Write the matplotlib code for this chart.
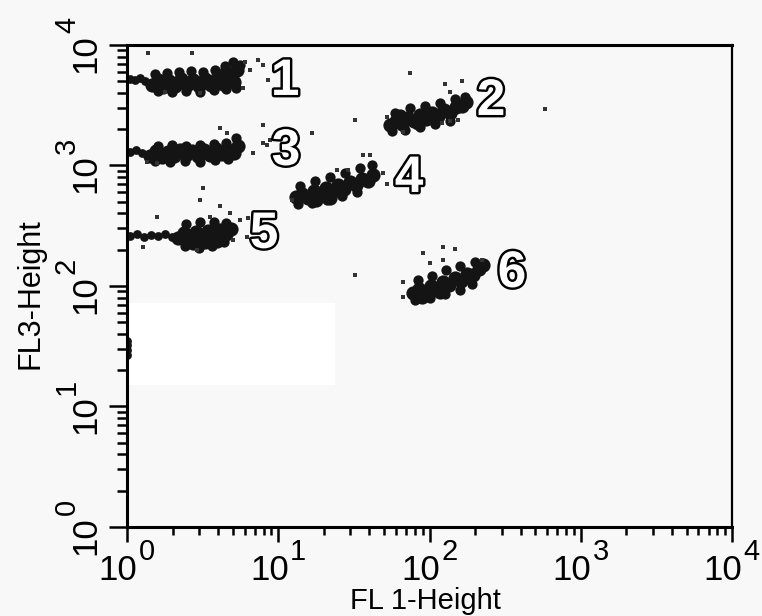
import matplotlib
matplotlib.use("Agg")
import matplotlib.pyplot as plt
import matplotlib.patheffects as pe
from matplotlib import font_manager
from matplotlib.patches import Rectangle
from matplotlib.ticker import NullFormatter

# --- populations (FL1-Height, FL3-Height) ---
# population 1
p1_core_x = [1.46, 1.60, 1.73, 1.90, 2.08, 2.27, 2.49, 2.73, 2.99, 3.28, 3.59, 3.94, 4.31, 4.73, 5.10, 5.34, 4.51]
p1_core_y = [4660, 5130, 4480, 5030, 4570, 5230, 4660, 5130, 4570, 5230, 4660, 5320, 4750, 5420, 4930, 6210, 5970]
p1_edge_x = [1.53, 1.84, 2.21, 2.65, 3.18, 3.82, 4.45, 5.02, 5.59, 1.60, 1.98, 2.46, 3.04, 3.76, 4.51, 5.26]
p1_edge_y = [5746, 5856, 5970, 6085, 5970, 6210, 6698, 7220, 6830, 4152, 4074, 4152, 4074, 4240, 4315, 4400]
p1_tail_x = [1.05, 1.13, 1.22, 1.32]
p1_tail_y = [5230, 5130, 5320, 5030]
p1_stray_x = [1.38, 2.69, 6.03, 6.51, 7.35, 7.93, 8.55, 5.85, 3.04, 1.78]
p1_stray_y = [8590, 8590, 7220, 6210, 7510, 6830, 5130, 4400, 4000, 4070]

# population 2
p2_core_x = [54.8, 60.0, 65.8, 72.1, 79.0, 86.5, 94.8, 103.9, 113.8, 124.7, 136.6, 149.7, 164.0, 174.3, 63.8, 83.9]
p2_core_y = [2169, 2340, 2210, 2478, 2340, 2625, 2432, 2728, 2575, 2888, 2728, 3058, 3118, 3365, 2575, 2253]
p2_edge_x = [59.1, 74.3, 93.4, 117.3, 147.5, 171.7, 56.5, 68.9, 86.5, 108.7, 136.6]
p2_edge_y = [2728, 3000, 3118, 3302, 3562, 3703, 1933, 1970, 2087, 2210, 2340]
p2_stray_x = [74.3, 126.6, 164.0, 136.6, 154.3, 136.6, 120.9, 66.8, 52.4, 580]
p2_stray_y = [5856, 4748, 5026, 4074, 2385, 2340, 2253, 1897, 2526, 2943]

# population 3
p3_core_x = [1.42, 1.56, 1.70, 1.87, 2.05, 2.24, 2.46, 2.69, 2.95, 3.23, 3.54, 3.88, 4.25, 4.65, 5.10, 5.42]
p3_core_y = [1199, 1319, 1176, 1294, 1199, 1345, 1222, 1319, 1199, 1345, 1222, 1371, 1246, 1345, 1270, 1451]
p3_edge_x = [1.60, 1.98, 2.46, 3.04, 3.76, 4.51, 5.26, 1.53, 1.92, 2.42, 3.04, 3.82, 4.65]
p3_edge_y = [1451, 1480, 1451, 1480, 1508, 1537, 1691, 1090, 1069, 1090, 1069, 1111, 1133]
p3_tail_x = [1.05, 1.15, 1.26]
p3_tail_y = [1294, 1345, 1270]
p3_stray_x = [4.12, 4.58, 7.93, 8.43, 6.81, 1.36, 1.58, 8.82, 7.93, 16.7, 32.2]
p3_stray_y = [2048, 1861, 2169, 1480, 1270, 1069, 1049, 1628, 1537, 1861, 2385]

# population 4
p4_core_x = [13.1, 14.4, 15.7, 17.2, 18.9, 20.7, 22.7, 24.8, 27.2, 29.8, 32.7, 35.8, 39.2, 42.3, 22.0, 17.8]
p4_core_y = [548, 580, 537, 614, 569, 650, 603, 689, 638, 730, 689, 773, 744, 834, 537, 517]
p4_edge_x = [13.9, 17.5, 22.0, 27.6, 34.7, 41.7, 13.5, 16.7, 21.0, 26.4, 33.2]
p4_edge_y = [676, 744, 803, 866, 953, 1010, 479, 488, 517, 558, 603]
p4_stray_x = [36.3, 40.4, 49.3, 52.4, 24.5, 28.9, 12.3]
p4_stray_y = [1222, 1222, 866, 702, 918, 918, 517]

# population 5
p5_core_x = [2.17, 2.38, 2.61, 2.86, 3.13, 3.43, 3.76, 4.12, 4.51, 4.87, 2.73, 3.28, 3.94]
p5_core_y = [250, 275, 246, 281, 255, 286, 260, 292, 270, 297, 227, 232, 236]
p5_edge_x = [2.46, 3.04, 3.76, 4.51, 2.42, 2.99, 3.65, 4.38]
p5_edge_y = [327, 340, 340, 333, 215, 207, 215, 232]
p5_tail_x = [1.05, 1.16, 1.30, 1.44, 1.60, 1.78, 1.98]
p5_tail_y = [260, 270, 255, 265, 260, 270, 255]
p5_stray_x = [3.18, 3.04, 4.12, 4.80, 5.59, 6.31, 5.02, 6.21, 2.90, 1.28, 1.58, 3.54]
p5_stray_y = [650, 517, 461, 403, 353, 367, 241, 255, 199, 211, 374, 374]

# population 6
p6_core_x = [77.8, 85.2, 93.4, 102.3, 112.1, 122.9, 134.6, 147.5, 161.6, 177.0, 194.0, 212.5, 225.8, 117.3, 89.2]
p6_core_y = [87.5, 94.5, 87.5, 100, 94.5, 108, 102, 116.5, 110, 125.8, 123.4, 138.4, 149.4, 89.2, 81]
p6_edge_x = [83.9, 103.9, 128.5, 159.1, 199.7, 80.2, 100.7, 126.6, 159.1, 191.0]
p6_edge_y = [112.2, 121.1, 136.0, 146.6, 158.2, 76.5, 79.5, 85.8, 92.7, 103.9]
p6_stray_x = [122.9, 90.6, 147.5, 100.7, 122.9, 66.8, 66.8, 222.4, 32.2]
p6_stray_y = [211, 188, 203, 155, 164, 108, 81, 164, 123]

# events piled on the FL1 axis minimum
edge_x = [1.0, 1.0, 1.0, 1.0]
edge_y = [26.8, 29.4, 32.4, 35.0]

# population numbers
label_text = ["1", "2", "3", "4", "5", "6"]
label_x = [11.1, 255, 11.25, 73.2, 8.05, 351]
label_y = [3847, 2625, 1010, 603, 207, 98.1]

decades = [0, 1, 2, 3, 4]

# --- fonts ---
names = {f.name for f in font_manager.fontManager.ttflist}
narrow = "Liberation Sans Narrow" if "Liberation Sans Narrow" in names else "Liberation Sans"
plt.rcParams["font.family"] = [narrow, "DejaVu Sans"]

bg = "#f8f8f8"
fig = plt.figure(figsize=(7.62, 6.16), dpi=100, facecolor=bg)
ax = fig.add_axes([0.1667, 0.1445, 0.794, 0.7825])
ax.set_facecolor(bg)
ax.set_xscale("log")
ax.set_yscale("log")
ax.set_xlim(1, 1e4)
ax.set_ylim(1, 1e4)

# blank patch left in the original scan
ax.add_patch(Rectangle((0, 0.295), 0.344, 0.17, transform=ax.transAxes,
                       facecolor="white", edgecolor="none", zorder=0.5))

dot = "#141414"
cores = [(p1_core_x, p1_core_y), (p2_core_x, p2_core_y), (p3_core_x, p3_core_y),
         (p4_core_x, p4_core_y), (p5_core_x, p5_core_y), (p6_core_x, p6_core_y)]
edges = [(p1_edge_x, p1_edge_y), (p2_edge_x, p2_edge_y), (p3_edge_x, p3_edge_y),
         (p4_edge_x, p4_edge_y), (p5_edge_x, p5_edge_y), (p6_edge_x, p6_edge_y)]
tails = [(p1_tail_x, p1_tail_y), (p3_tail_x, p3_tail_y), (p5_tail_x, p5_tail_y),
         (edge_x, edge_y)]
strays = [(p1_stray_x, p1_stray_y), (p2_stray_x, p2_stray_y), (p3_stray_x, p3_stray_y),
          (p4_stray_x, p4_stray_y), (p5_stray_x, p5_stray_y), (p6_stray_x, p6_stray_y)]

for xs, ys in cores:
    ax.scatter(xs, ys, s=105, c=dot, marker="o", linewidths=0, zorder=2)
for xs, ys in edges:
    ax.scatter(xs, ys, s=55, c=dot, marker="o", linewidths=0, zorder=2)
for xs, ys in tails:
    ax.scatter(xs, ys, s=40, c=dot, marker="o", linewidths=0, zorder=2)
for xs, ys in strays:
    ax.scatter(xs, ys, s=7, c="#333333", marker="s", linewidths=0, zorder=2)

for t, x, y in zip(label_text, label_x, label_y):
    ax.text(x, y, t, fontsize=37, fontweight="bold", color="white",
            ha="center", va="baseline", zorder=3,
            path_effects=[pe.withStroke(linewidth=3.5, foreground="black")])

# axes styling
for side in ["top", "left", "bottom"]:
    ax.spines[side].set_linewidth(2.2)
ax.spines["right"].set_linewidth(1.6)

ticks = [10.0 ** d for d in decades]
ax.set_xticks(ticks)
ax.set_yticks(ticks)
ax.set_xticklabels([])
ax.set_yticklabels([])
ax.xaxis.set_minor_formatter(NullFormatter())
ax.yaxis.set_minor_formatter(NullFormatter())

ax.tick_params(axis="x", which="major", direction="out", length=11, width=1.8)
ax.tick_params(axis="x", which="minor", direction="out", length=6, width=1.8)
ax.tick_params(axis="y", which="major", direction="out", length=13, width=1.8)
ax.tick_params(axis="y", which="minor", direction="out", length=7, width=1.8)

# decade labels drawn as "10" with a large raised exponent, as on the cytometer plot
for d in decades:
    ax.annotate("10", xy=(10.0 ** d, 0), xycoords=ax.get_xaxis_transform(),
                xytext=(-6.5, -38), textcoords="offset points",
                ha="center", va="baseline", fontsize=25, annotation_clip=False)
    ax.annotate(str(d), xy=(10.0 ** d, 0), xycoords=ax.get_xaxis_transform(),
                xytext=(8.5, -24), textcoords="offset points",
                ha="left", va="baseline", fontsize=21, annotation_clip=False)
    ax.annotate("10", xy=(0, 10.0 ** d), xycoords=ax.get_yaxis_transform(),
                xytext=(-23, -6), textcoords="offset points", rotation=90,
                rotation_mode="anchor", ha="center", va="baseline", fontsize=25,
                annotation_clip=False)
    ax.annotate(str(d), xy=(0, 10.0 ** d), xycoords=ax.get_yaxis_transform(),
                xytext=(-37.5, 8.5), textcoords="offset points", rotation=90,
                rotation_mode="anchor", ha="left", va="baseline", fontsize=21,
                annotation_clip=False)

ax.set_xlabel("FL 1-Height", fontsize=21)
ax.set_ylabel("FL3-Height", fontsize=22)
ax.xaxis.set_label_coords(0.4926, -0.125)
ax.yaxis.set_label_coords(-0.135, 0.485)

fig.savefig("out.png", dpi=100, facecolor=bg)
